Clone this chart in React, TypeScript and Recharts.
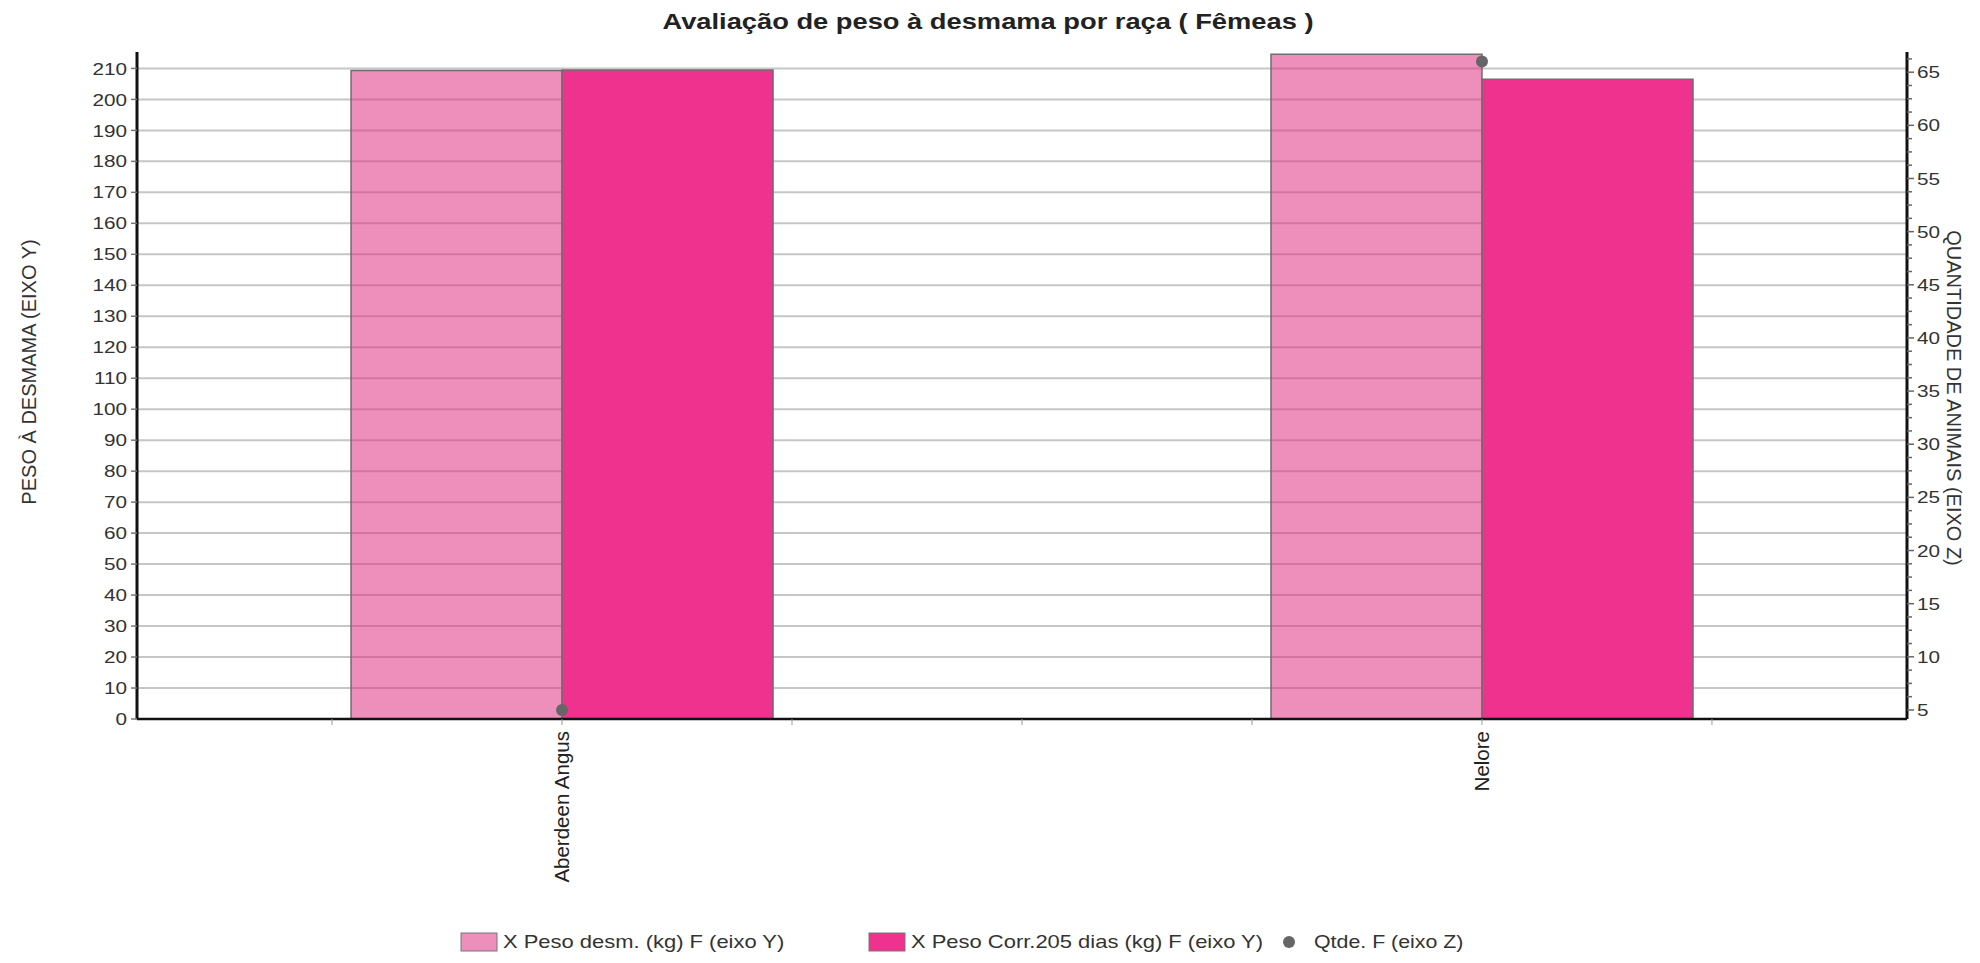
import React from "react";
import { ComposedChart, Bar, Line, XAxis, YAxis, CartesianGrid, Legend, Label } from "recharts";

const categories = ["Aberdeen Angus", "Nelore"];
const categoryPositions = [1, 5];
const pesoDesm = [209.3, 214.6];
const pesoCorr205 = [209.5, 206.5];
const qtde = [5, 66];

const xTicks = [0, 1, 2, 3, 4, 5, 6];
const leftTicks = [0, 10, 20, 30, 40, 50, 60, 70, 80, 90, 100, 110, 120, 130, 140, 150, 160, 170, 180, 190, 200, 210];
const rightMajorTicks = [5, 10, 15, 20, 25, 30, 35, 40, 45, 50, 55, 60, 65];
const rightMinorStep = 1.25;
const rightTicks = Array.from({ length: 50 }, (_, i) => 5 + i * rightMinorStep).filter((v) => v <= 66.5);

const seriesNames = ["X Peso desm. (kg) F (eixo Y)", "X Peso Corr.205 dias (kg) F (eixo Y)", "Qtde. F (eixo Z)"];
const title = "Avaliação de peso à desmama por raça ( Fêmeas )";
const leftAxisTitle = "PESO À DESMAMA (EIXO Y)";
const rightAxisTitle = "QUANTIDADE DE ANIMAIS (EIXO Z)";

const data = categories.map((name, i) => ({
  name,
  pos: categoryPositions[i],
  desm: pesoDesm[i],
  corr: pesoCorr205[i],
  qtde: qtde[i],
}));

const FONT = "'Liberation Sans', Arial, sans-serif";
const LIGHT = "#DE3283";
const LIGHT_SOLID = "#EE8EBB";
const DARK = "#EE328E";
const TEXT = "#333333";
const SX = 1.22;

const ScaledText = ({ x, y, anchor, children, size = 17, fill = TEXT }: any) => (
  <text
    transform={`translate(${x} ${y}) scale(${SX} 1)`}
    x={0}
    y={0}
    dy="0.36em"
    textAnchor={anchor}
    fill={fill}
    fontSize={size}
    fontFamily={FONT}
  >
    {children}
  </text>
);

const LeftTick = (props: any) => {
  const { x, y, payload } = props;
  return (
    <ScaledText x={x} y={y} anchor="end">
      {payload.value}
    </ScaledText>
  );
};

const RightTick = (props: any) => {
  const { x, y, payload } = props;
  const v = payload.value;
  const major = rightMajorTicks.includes(v);
  return (
    <g>
      <line x1={x} x2={x + (major ? 7 : 5)} y1={y} y2={y} stroke="#666" strokeWidth={1.5} />
      {major && (
        <ScaledText x={x + 10} y={y} anchor="start">
          {v}
        </ScaledText>
      )}
    </g>
  );
};

const XTick = (props: any) => {
  const { x, y, payload } = props;
  const idx = categoryPositions.indexOf(payload.value);
  if (idx < 0) return <g />;
  return (
    <text
      x={x}
      y={y}
      dy="0.36em"
      textAnchor="end"
      transform={`rotate(-90, ${x}, ${y})`}
      fill="#222"
      fontSize={20.5}
      fontFamily={FONT}
    >
      {categories[idx]}
    </text>
  );
};

const LegendContent = () => (
  <svg width={1980} height={30} style={{ display: "block" }}>
    <rect x={461} y={6} width={36} height={18} fill={LIGHT_SOLID} stroke="#777" strokeWidth={1} />
    <ScaledText x={503} y={15} anchor="start" size={18}>
      {seriesNames[0]}
    </ScaledText>
    <rect x={869} y={6} width={36} height={18} fill={DARK} stroke="#777" strokeWidth={1} />
    <ScaledText x={911} y={15} anchor="start" size={18}>
      {seriesNames[1]}
    </ScaledText>
    <circle cx={1289} cy={15} r={6} fill="#666" />
    <ScaledText x={1314} y={15} anchor="start" size={17.5}>
      {seriesNames[2]}
    </ScaledText>
  </svg>
);

export default function App() {
  return (
    <div style={{ position: "absolute", left: 0, top: 0, width: 1980, height: 963, background: "#fff" }}>
      <div
        style={{
          position: "absolute",
          top: 9,
          left: 0,
          width: 1976,
          textAlign: "center",
          fontFamily: FONT,
          fontWeight: "bold",
          fontSize: 22,
          color: "#222",
          zIndex: 2,
          transform: "scaleX(1.24)",
          transformOrigin: "988px 0",
          whiteSpace: "nowrap",
        }}
      >
        {title}
      </div>
      <ComposedChart
        width={1980}
        height={963}
        data={data}
        margin={{ top: 52, right: 13, bottom: 74, left: 57 }}
        barGap={0}
      >
        <CartesianGrid yAxisId="left" vertical={false} syncWithTicks stroke="#c6c6c6" strokeWidth={2} />
        <XAxis
          dataKey="pos"
          type="number"
          domain={[-0.848, 6.848]}
          allowDataOverflow
          ticks={xTicks}
          interval={0}
          tick={<XTick />}
          tickLine={{ stroke: "#999", strokeWidth: 1 }}
          tickSize={6}
          tickMargin={6}
          axisLine={{ stroke: "#111", strokeWidth: 2.5 }}
          height={170}
        />
        <YAxis
          yAxisId="left"
          domain={[0, 215.3]}
          allowDataOverflow
          ticks={leftTicks}
          interval={0}
          tick={<LeftTick />}
          tickLine={{ stroke: "#777", strokeWidth: 1.5 }}
          tickSize={6}
          tickMargin={4}
          axisLine={{ stroke: "#111", strokeWidth: 3 }}
          width={80}
        >
          <Label
            content={() => (
              <text
                x={29}
                y={372}
                transform="rotate(-90, 29, 372)"
                textAnchor="middle"
                dy="0.36em"
                fill={TEXT}
                fontSize={20}
                fontFamily={FONT}
              >
                {leftAxisTitle}
              </text>
            )}
          />
        </YAxis>
        <YAxis
          yAxisId="right"
          orientation="right"
          domain={[4.15, 66.9]}
          allowDataOverflow
          ticks={rightTicks}
          interval={0}
          tick={<RightTick />}
          tickLine={false}
          tickSize={0}
          tickMargin={0}
          axisLine={{ stroke: "#111", strokeWidth: 3 }}
          width={60}
        >
          <Label
            content={() => (
              <text
                x={1954}
                y={398}
                transform="rotate(90, 1954, 398)"
                textAnchor="middle"
                dy="0.36em"
                fill={TEXT}
                fontSize={20}
                fontFamily={FONT}
              >
                {rightAxisTitle}
              </text>
            )}
          />
        </YAxis>
        <Bar
          yAxisId="left"
          dataKey="desm"
          name={seriesNames[0]}
          barSize={211}
          fill={LIGHT}
          fillOpacity={0.55}
          stroke="#6e6e6e"
          strokeWidth={1.5}
          isAnimationActive={false}
        />
        <Bar
          yAxisId="left"
          dataKey="corr"
          name={seriesNames[1]}
          barSize={211}
          fill={DARK}
          stroke="#6e6e6e"
          strokeWidth={1.5}
          isAnimationActive={false}
        />
        <Line
          yAxisId="right"
          dataKey="qtde"
          name={seriesNames[2]}
          stroke="none"
          dot={{ r: 6, fill: "#666", stroke: "none" }}
          activeDot={false}
          isAnimationActive={false}
        />
        <Legend
          verticalAlign="middle"
          align="center"
          layout="horizontal"
          content={<LegendContent />}
          wrapperStyle={{ top: 927, left: 0, width: 1980 }}
        />
      </ComposedChart>
    </div>
  );
}
